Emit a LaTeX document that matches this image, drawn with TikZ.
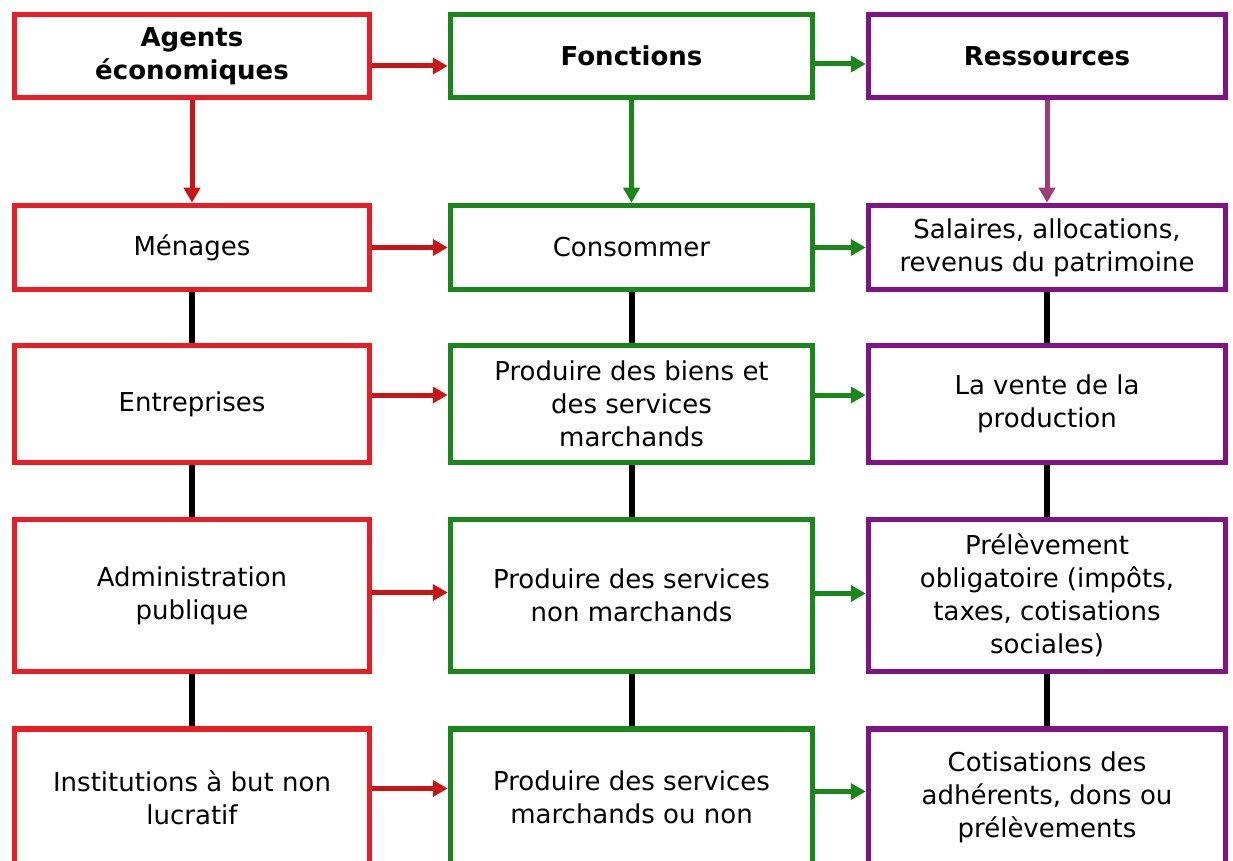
\documentclass[tikz,border=0pt]{standalone}
\usepackage{fontspec}
\setmainfont{DejaVu Sans}
\usetikzlibrary{positioning,arrows.meta}

\definecolor{agentred}{RGB}{232,30,36}
\definecolor{arrowred}{RGB}{200,22,22}
\definecolor{fgreen}{RGB}{26,135,26}
\definecolor{rpurple}{RGB}{128,20,132}
\definecolor{arrowpurple}{RGB}{160,60,120}

\begin{document}
\begin{tikzpicture}[x=1pt,y=-1pt,on grid,
	box/.style={draw,line width=5.5pt,fill=white,inner sep=0pt,align=center,font=\fontsize{26}{33}\selectfont},
	agent/.style={box,draw=agentred,minimum width=355pt},
	fonction/.style={box,draw=fgreen,minimum width=362pt},
	ressource/.style={box,draw=rpurple,minimum width=357pt},
	head/.style={font=\bfseries\fontsize{26}{33}\selectfont},
	link/.style={line width=6pt,black},
	flow/.style={->,line width=5pt,>={Triangle[length=15pt,width=16pt]}}]
	\useasboundingbox[fill=white] (0,0) rectangle (1233,861);

	% agents economiques
	\node[agent,head,minimum height=83pt] (agents) at (192,56) {Agents\\économiques};
	\node[agent,minimum height=84pt] (menages) [below=191.5pt of agents] {Ménages};
	\node[agent,minimum height=117pt] (entreprises) [below=156.5pt of menages] {Entreprises};
	\node[agent,minimum height=152pt] (admin) [below=191.5pt of entreprises] {Administration\\publique};
	\node[agent,minimum height=137pt] (isbl) [below=202pt of admin] {Institutions à but non\\lucratif};

	% fonctions
	\node[fonction,head,minimum height=83pt] (fonctions) [right=439.5pt of agents] {Fonctions};
	\node[fonction,minimum height=84pt] (consommer) [right=439.5pt of menages] {Consommer};
	\node[fonction,minimum height=117pt] (biens) [right=439.5pt of entreprises] {Produire des biens et\\des services\\marchands};
	\node[fonction,minimum height=152pt] (nonmarch) [right=439.5pt of admin] {Produire des services\\non marchands};
	\node[fonction,minimum height=137pt] (ouNon) [right=439.5pt of isbl] {Produire des services\\marchands ou non};

	% ressources
	\node[ressource,head,minimum height=83pt] (ressources) [right=415.5pt of fonctions] {Ressources};
	\node[ressource,minimum height=84pt] (salaires) [right=415.5pt of consommer] {Salaires, allocations,\\revenus du patrimoine};
	\node[ressource,minimum height=117pt] (vente) [right=415.5pt of biens] {La vente de la\\production};
	\node[ressource,minimum height=152pt] (prelev) [right=415.5pt of nonmarch] {Prélèvement\\obligatoire (impôts,\\taxes, cotisations\\sociales)};
	\node[ressource,minimum height=137pt] (cotis) [right=415.5pt of ouNon] {Cotisations des\\adhérents, dons ou\\prélèvements};

	% fleches
	\draw[flow,arrowred] (agents) -- (menages);
	\draw[flow,fgreen] (fonctions) -- (consommer);
	\draw[flow,arrowpurple] (ressources) -- (salaires);
	\draw[flow,arrowred] ([yshift=-10pt]agents.east) -- ([yshift=-10pt]fonctions.west);
	\draw[flow,fgreen] ([yshift=-8pt]fonctions.east) -- ([yshift=-8pt]ressources.west);
	\draw[flow,arrowred] (menages) -- (consommer);
	\draw[flow,fgreen] (consommer) -- (salaires);
	\draw[flow,arrowred] ([yshift=9pt]entreprises.east) -- ([yshift=9pt]biens.west);
	\draw[flow,fgreen] ([yshift=9pt]biens.east) -- ([yshift=9pt]vente.west);
	\draw[flow,arrowred] ([yshift=3pt]admin.east) -- ([yshift=3pt]nonmarch.west);
	\draw[flow,fgreen] ([yshift=2pt]nonmarch.east) -- ([yshift=2pt]prelev.west);
	\draw[flow,arrowred] ([yshift=9pt]isbl.east) -- ([yshift=9pt]ouNon.west);
	\draw[flow,fgreen] ([yshift=6pt]ouNon.east) -- ([yshift=6pt]cotis.west);

	% liaisons
	\draw[link] (menages) -- (entreprises);
	\draw[link] (entreprises) -- (admin);
	\draw[link] (admin) -- (isbl);
	\draw[link] (consommer) -- (biens);
	\draw[link] (biens) -- (nonmarch);
	\draw[link] (nonmarch) -- (ouNon);
	\draw[link] (salaires) -- (vente);
	\draw[link] (vente) -- (prelev);
	\draw[link] (prelev) -- (cotis);
\end{tikzpicture}
\end{document}
